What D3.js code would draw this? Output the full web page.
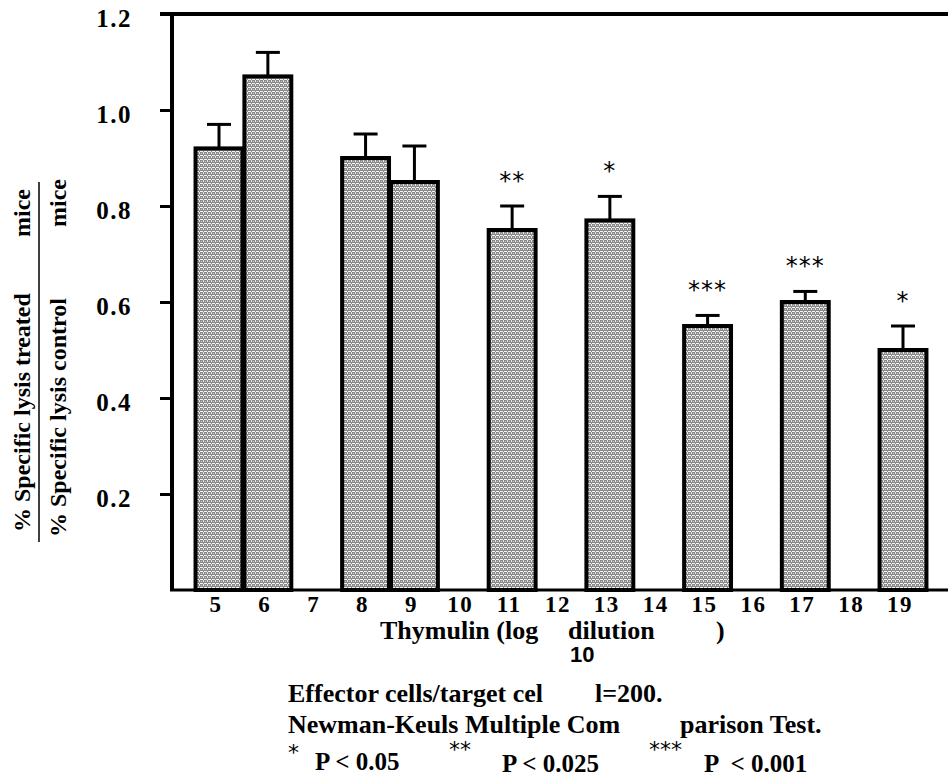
<!DOCTYPE html>
<html lang="en">
<head>
<meta charset="UTF-8">
<title>Thymulin - specific lysis ratio</title>
<script src="https://d3js.org/d3.v7.min.js"></script>
<style>
    body { margin: 0; padding: 0; background: #fff; }
    svg { display: block; }
    .serif { font-family: "Liberation Serif", "Times New Roman", serif; font-weight: bold; fill: #000; }
    .sans { font-family: "Liberation Sans", Arial, sans-serif; font-weight: bold; fill: #000; }
    .star { font-family: "DejaVu Sans", sans-serif; fill: #000; }
</style>
</head>
<body>
<svg id="vis"></svg>
<script>
    // values
    const dilutions = [5, 6, 8, 9, 11, 13, 15, 17, 19];
    const ratios = [0.92, 1.07, 0.90, 0.85, 0.75, 0.77, 0.55, 0.60, 0.50];
    const errors = [0.05, 0.05, 0.05, 0.075, 0.05, 0.05, 0.022, 0.022, 0.05];
    const stars = ["", "", "", "", "**", "*", "***", "***", "*"];
    const xTicks = [5, 6, 7, 8, 9, 10, 11, 12, 13, 14, 15, 16, 17, 18, 19];
    const yTicks = [0.2, 0.4, 0.6, 0.8, 1.0, 1.2];

    const width = 948, height = 776;
    const svg = d3.select("#vis").attr("width", width).attr("height", height);

    const x = d3.scaleLinear().domain([5, 19]).range([219, 903]);
    const y = d3.scaleLinear().domain([0, 1.2]).range([590, 14]);
    const barW = (x(6) - x(5)) * 0.96;

    // dotted grey fill
    const defs = svg.append("defs");
    const pat = defs.append("pattern")
        .attr("id", "dots")
        .attr("patternUnits", "userSpaceOnUse")
        .attr("width", 4).attr("height", 4);
    pat.append("rect").attr("width", 4).attr("height", 4).attr("fill", "#8a8a8a");
    pat.append("rect").attr("x", 0).attr("y", 3).attr("width", 3).attr("height", 1).attr("fill", "#f4f4f4");
    pat.append("rect").attr("x", 3).attr("y", 0).attr("width", 1).attr("height", 2).attr("fill", "#e8e8e8");
    pat.append("rect").attr("x", 1).attr("y", 1).attr("width", 1).attr("height", 1).attr("fill", "#c8c8c8");

    const data = dilutions.map((d, i) => ({ d, v: ratios[i], e: errors[i], s: stars[i] }));

    // error bars (drawn first so the bar outline sits on top)
    const eb = svg.append("g").attr("stroke", "#000").attr("stroke-width", 3);
    eb.selectAll("line.v").data(data).join("line")
        .attr("class", "v")
        .attr("x1", d => x(d.d)).attr("x2", d => x(d.d))
        .attr("y1", d => y(d.v)).attr("y2", d => y(d.v + d.e));
    eb.selectAll("line.c").data(data).join("line")
        .attr("class", "c")
        .attr("x1", d => x(d.d) - 12).attr("x2", d => x(d.d) + 12)
        .attr("y1", d => y(d.v + d.e)).attr("y2", d => y(d.v + d.e));

    svg.append("g").selectAll("rect").data(data).join("rect")
        .attr("x", d => x(d.d) - barW / 2)
        .attr("y", d => y(d.v))
        .attr("width", barW)
        .attr("height", d => y(0) - y(d.v))
        .attr("fill", "url(#dots)")
        .attr("stroke", "#000")
        .attr("stroke-width", 4);

    svg.append("g").selectAll("text").data(data.filter(d => d.s)).join("text")
        .attr("class", "star")
        .attr("x", d => x(d.d))
        .attr("y", d => y(d.v + d.e) - 17)
        .attr("text-anchor", "middle")
        .style("font-size", "24px")
        .attr("letter-spacing", 1)
        .text(d => d.s);

    // frame: left axis, top line, baseline
    const yAxis = d3.axisLeft(y).tickValues(yTicks).tickSize(12).tickPadding(28)
        .tickFormat(d3.format(".1f"));
    const ga = svg.append("g").attr("transform", "translate(172,0)").call(yAxis);
    ga.select(".domain").remove();
    ga.selectAll(".tick line").attr("stroke", "#000").attr("stroke-width", 3);
    ga.selectAll(".tick text")
        .attr("class", "serif")
        .style("font-size", "25px")
        .attr("letter-spacing", 1.5)
        .attr("dy", "0.5em");

    svg.append("line").attr("x1", 172).attr("x2", 172).attr("y1", y(1.2) - 2).attr("y2", y(0) + 1)
        .attr("stroke", "#000").attr("stroke-width", 4);
    svg.append("line").attr("x1", 160).attr("x2", width).attr("y1", y(1.2)).attr("y2", y(1.2))
        .attr("stroke", "#000").attr("stroke-width", 4);
    svg.append("line").attr("x1", 170).attr("x2", width).attr("y1", y(0)).attr("y2", y(0))
        .attr("stroke", "#000").attr("stroke-width", 3);

    // x tick labels
    svg.append("g").selectAll("text").data(xTicks).join("text")
        .attr("class", "serif")
        .attr("x", d => x(d) - 3)
        .attr("y", 612)
        .attr("text-anchor", "middle")
        .style("font-size", "23px")
        .attr("letter-spacing", 1.5)
        .text(d => d);

    // x title
    const xt = svg.append("g").attr("class", "serif").style("font-size", "26px");
    xt.append("text").attr("x", 380).attr("y", 639).text("Thymulin (log");
    xt.append("text").attr("x", 568).attr("y", 639).text("dilution");
    xt.append("text").attr("x", 716).attr("y", 639).text(")");
    svg.append("text").attr("class", "sans").attr("x", 570).attr("y", 662)
        .style("font-size", "22px")
        .text("10");

    // y title as a fraction
    const yt = svg.append("g").attr("class", "serif").style("font-size", "24px");
    yt.append("text").attr("transform", "translate(30,532) rotate(-90)").text("% Specific lysis treated");
    yt.append("text").attr("transform", "translate(30,237) rotate(-90)").text("mice");
    yt.append("text").attr("transform", "translate(66,537) rotate(-90)").text("% Specific lysis control");
    yt.append("text").attr("transform", "translate(66,227) rotate(-90)").text("mice");
    svg.append("line").attr("x1", 39).attr("x2", 39).attr("y1", 182).attr("y2", 542)
        .attr("stroke", "#000").attr("stroke-width", 1.5);

    // footnote
    const fn = svg.append("g").attr("class", "serif").style("font-size", "26px");
    fn.append("text").attr("x", 288).attr("y", 702).text("Effector cells/target cel");
    fn.append("text").attr("x", 595).attr("y", 702).text("l=200.");
    fn.append("text").attr("x", 288).attr("y", 733).text("Newman-Keuls Multiple Com");
    fn.append("text").attr("x", 680).attr("y", 733).text("parison Test.");
    fn.append("text").attr("x", 315).attr("y", 770).style("font-size", "25px").text("P < 0.05");
    fn.append("text").attr("x", 502).attr("y", 772).style("font-size", "25px").text("P < 0.025");
    fn.append("text").attr("x", 704).attr("y", 772).style("font-size", "25px").attr("xml:space", "preserve").text("P  < 0.001");
    const fs = svg.append("g").attr("class", "star").style("font-size", "22px");
    fs.append("text").attr("x", 288).attr("y", 760).text("*");
    fs.append("text").attr("x", 449).attr("y", 757).text("**");
    fs.append("text").attr("x", 649).attr("y", 757).text("***");
</script>
</body>
</html>
